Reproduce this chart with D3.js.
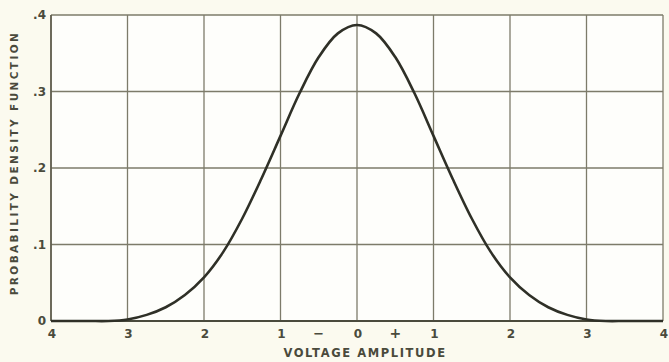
<!DOCTYPE html>
<html><head><meta charset="utf-8">
<script src="https://cdn.jsdelivr.net/npm/d3@7"></script>
<style>
html,body{margin:0;padding:0;background:#fbfaef;}
svg{display:block;}
text{font-family:"DejaVu Sans",sans-serif;font-weight:bold;fill:#4a4a3c;}
</style></head><body>
<svg id="c" width="669" height="362"></svg>
<script>
const xTicks = [-4,-3,-2,-1,0,1,2,3,4];
const xTickLabels = ["4","3","2","1","0","1","2","3","4"];
const yTicks = [0,0.1,0.2,0.3,0.4];
const yTickLabels = ["0",".1",".2",".3",".4"];
const curveX = [-4,-3.75,-3.5,-3.25,-3,-2.75,-2.5,-2.25,-2,-1.75,-1.5,-1.25,-1,-0.75,-0.5,-0.25,0,0.25,0.5,0.75,1,1.25,1.5,1.75,2,2.25,2.5,2.75,3,3.25,3.5,3.75,4];
const curveY = [0,0,0,0,0.002,0.008,0.018,0.034,0.057,0.090,0.134,0.186,0.242,0.298,0.345,0.376,0.387,0.376,0.345,0.298,0.242,0.186,0.134,0.090,0.057,0.034,0.018,0.008,0.002,0,0,0,0];
const xLabel = "VOLTAGE AMPLITUDE";
const yLabel = "PROBABILITY DENSITY FUNCTION";

const svg = d3.select("#c");
const L=51, R=663, T=15, B=321;
const x = d3.scaleLinear().domain([-4,4]).range([L,R]);
const y = d3.scaleLinear().domain([0,0.4]).range([B,T]);

svg.append("rect").attr("x",L).attr("y",T).attr("width",R-L).attr("height",B-T).attr("fill","#fefefb");

// grid
svg.append("g").selectAll("line").data(xTicks).join("line")
  .attr("x1",d=>x(d)).attr("x2",d=>x(d)).attr("y1",T).attr("y2",B)
  .attr("stroke","#7d7b6a").attr("stroke-width",1.3);
svg.append("g").selectAll("line").data(yTicks).join("line")
  .attr("x1",L).attr("x2",R).attr("y1",d=>y(d)).attr("y2",d=>y(d))
  .attr("stroke","#7d7b6a").attr("stroke-width",1.3);
svg.append("line").attr("x1",L).attr("x2",R).attr("y1",B).attr("y2",B)
  .attr("stroke","#4a4a3c").attr("stroke-width",2.2);
svg.append("line").attr("x1",L).attr("x2",L).attr("y1",T).attr("y2",B)
  .attr("stroke","#5e5c4c").attr("stroke-width",1.6);

// curve
const line = d3.line().x((d,i)=>x(curveX[i])).y((d,i)=>Math.min(B, y(curveY[i]))).curve(d3.curveCatmullRom.alpha(0.5));
svg.append("path").datum(curveY).attr("d",line).attr("fill","none")
  .attr("stroke","#2f3027").attr("stroke-width",2.6);

// x tick labels
svg.append("g").selectAll("text").data(xTicks).join("text")
  .attr("x",d=>x(d)+1).attr("y",B+17).attr("text-anchor","middle")
  .attr("font-size",12).text((d,i)=>xTickLabels[i]);
svg.append("text").attr("x",(x(-1)+x(0))/2).attr("y",B+17).attr("text-anchor","middle").attr("font-size",13).text("−");
svg.append("text").attr("x",(x(0)+x(1))/2).attr("y",B+17).attr("text-anchor","middle").attr("font-size",14).text("+");

// y tick labels
svg.append("g").selectAll("text").data(yTicks).join("text")
  .attr("x",L-5).attr("y",d=>y(d)+4).attr("text-anchor","end")
  .attr("font-size",12).text((d,i)=>yTickLabels[i]);

// axis titles
svg.append("text").attr("x",x(0)+8).attr("y",357).attr("text-anchor","middle")
  .attr("font-size",11.5).attr("letter-spacing",1.6).text(xLabel);
svg.append("text").attr("transform","translate(18,163) rotate(-90)").attr("text-anchor","middle")
  .attr("font-size",10.5).attr("letter-spacing",2.4).text(yLabel);
</script>
</body></html>
